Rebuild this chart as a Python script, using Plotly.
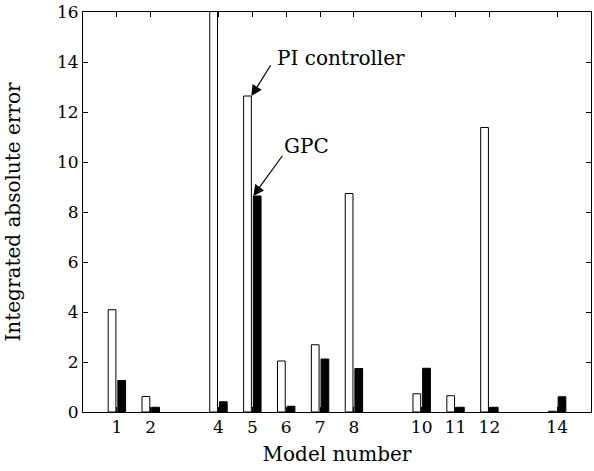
import plotly.graph_objects as go

models = [1, 2, 4, 5, 6, 7, 8, 10, 11, 12, 14]
pi_err = [4.09, 0.62, 17.0, 12.64, 2.04, 2.69, 8.74, 0.73, 0.65, 11.38, 0.03]
gpc_err = [1.26, 0.19, 0.41, 8.64, 0.23, 2.12, 1.74, 1.75, 0.19, 0.19, 0.61]
tick_vals = [1, 2, 4, 5, 6, 7, 8, 10, 11, 12, 14]
y_ticks = [0, 2, 4, 6, 8, 10, 12, 14, 16]

group_w = 2 / 3.5
off = group_w / 4
bw = 0.8 * group_w / 2

FONT = "DejaVu Serif"

fig = go.Figure()
fig.add_trace(go.Bar(
    x=[m - off for m in models], y=pi_err, width=bw,
    marker=dict(color="white", line=dict(color="black", width=1)),
    name="PI controller", showlegend=False))
fig.add_trace(go.Bar(
    x=[m + off for m in models], y=gpc_err, width=bw,
    marker=dict(color="black", line=dict(color="black", width=1)),
    name="GPC", showlegend=False))

# arrows
fig.add_annotation(x=5 - off + bw / 2, y=pi_err[3], ax=5.57, ay=13.93,
                   xref="x", yref="y", axref="x", ayref="y", text="",
                   showarrow=True, arrowhead=2, arrowsize=1.8, arrowwidth=1.2,
                   arrowcolor="black", standoff=0)
fig.add_annotation(x=5 + off - bw / 2, y=gpc_err[3], ax=5.92, ay=10.31,
                   xref="x", yref="y", axref="x", ayref="y", text="",
                   showarrow=True, arrowhead=2, arrowsize=1.8, arrowwidth=1.2,
                   arrowcolor="black", standoff=0)
fig.add_annotation(x=5.66, y=14.17, xref="x", yref="y", text="PI controller",
                   showarrow=False, xanchor="left", yanchor="middle",
                   font=dict(family=FONT, size=20, color="black"))
fig.add_annotation(x=5.89, y=10.63, xref="x", yref="y", text="GPC",
                   showarrow=False, xanchor="left", yanchor="middle",
                   font=dict(family=FONT, size=20, color="black"))

fig.update_layout(
    width=594, height=471,
    margin=dict(l=83, r=2, t=10, b=59),
    paper_bgcolor="white", plot_bgcolor="white",
    barmode="overlay",
    font=dict(family=FONT, size=18, color="black"),
    xaxis=dict(range=[0, 15], tickvals=tick_vals, ticktext=[str(v) for v in tick_vals],
               ticks="inside", ticklen=5, tickcolor="black", tickwidth=1,
               showline=True, linecolor="black", linewidth=1, mirror="ticks",
               showgrid=False, zeroline=False, tickfont=dict(family=FONT, size=17),
               ticklabeloverflow="allow",
               title=dict(text="Model number", font=dict(family=FONT, size=20), standoff=10)),
    yaxis=dict(range=[0, 16], tickvals=y_ticks, ticktext=[str(v) for v in y_ticks],
               ticks="inside", ticklen=5, tickcolor="black", tickwidth=1,
               showline=True, linecolor="black", linewidth=1, mirror="ticks",
               showgrid=False, zeroline=False, tickfont=dict(family=FONT, size=17),
               ticklabeloverflow="allow",
               title=dict(text="Integrated absolute error", font=dict(family=FONT, size=20), standoff=30)),
)

fig.write_html("out.html")
